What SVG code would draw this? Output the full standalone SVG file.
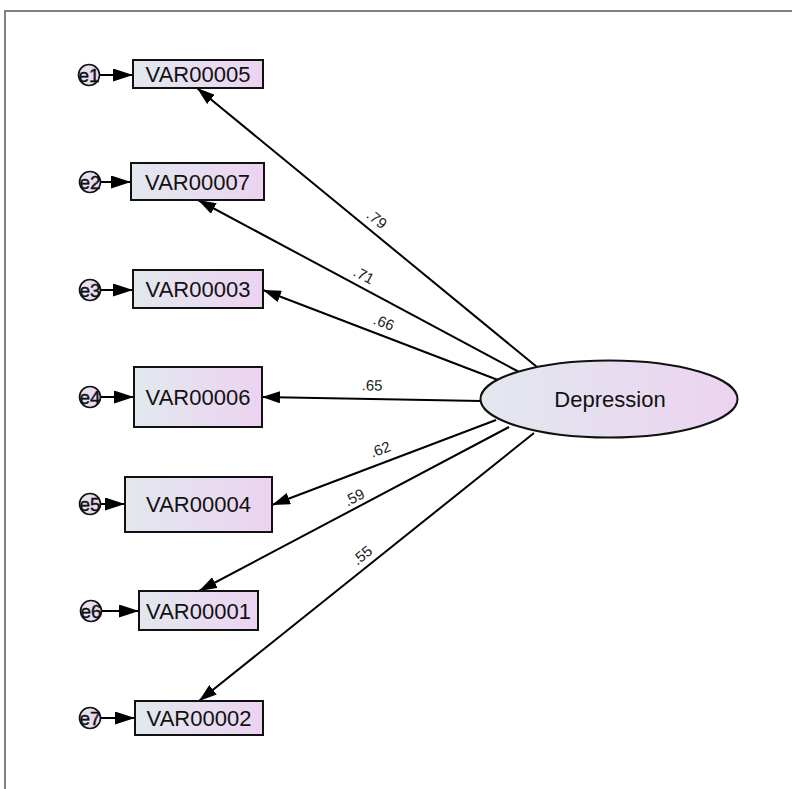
<svg xmlns="http://www.w3.org/2000/svg" width="792" height="789" viewBox="0 0 792 789">
  <defs>
    <linearGradient id="fill" x1="0" y1="0" x2="1" y2="0">
      <stop offset="0" stop-color="#e2e8ee"/>
      <stop offset="1" stop-color="#ecd3f1"/>
    </linearGradient>
    <marker id="arrow" markerUnits="userSpaceOnUse" markerWidth="19" markerHeight="12" refX="18" refY="6" orient="auto">
      <path d="M0,0 L18,6 L0,12 z" fill="#000"/>
    </marker>
    <marker id="arrowS" markerUnits="userSpaceOnUse" markerWidth="21" markerHeight="13" refX="20" refY="6.5" orient="auto">
      <path d="M0,0 L20,6.5 L0,13 z" fill="#000"/>
    </marker>
  </defs>
  <style>
    .box { fill: url(#fill); stroke: #111; stroke-width: 2; }
    .err { fill: url(#fill); stroke: #111; stroke-width: 1.6; }
    .lbl { font-family: "Liberation Sans", Arial, sans-serif; font-size: 22px; fill: #111; text-anchor: middle; dominant-baseline: central; }
    .etx { font-family: "Liberation Sans", Arial, sans-serif; font-size: 19px; fill: #111; stroke: #111; stroke-width: 0.4; text-anchor: middle; dominant-baseline: central; }
    .wt { font-family: "Liberation Sans", Arial, sans-serif; font-size: 15px; fill: #222; text-anchor: middle; dominant-baseline: central; }
    .path { stroke: #000; stroke-width: 2; fill: none; marker-end: url(#arrow); }
    .epath { stroke: #000; stroke-width: 2; fill: none; marker-end: url(#arrowS); }
  </style>

  <!-- frame -->
  <rect x="5" y="11" width="800" height="800" fill="#fff" stroke="#808080" stroke-width="2"/>

  <!-- connectors -->
  <g id="connectors">
    <line class="path" x1="537" y1="367" x2="197" y2="88"/>
    <line class="path" x1="521" y1="373" x2="198" y2="200"/>
    <line class="path" x1="498" y1="380" x2="263" y2="290"/>
    <line class="path" x1="481" y1="401" x2="262" y2="397"/>
    <line class="path" x1="496" y1="420" x2="272" y2="505"/>
    <line class="path" x1="509" y1="427" x2="199" y2="591"/>
    <line class="path" x1="534" y1="433" x2="199" y2="701"/>
    <line class="epath" x1="99" y1="75" x2="133" y2="75"/>
    <line class="epath" x1="100" y1="182" x2="131" y2="182"/>
    <line class="epath" x1="100" y1="290" x2="133" y2="290"/>
    <line class="epath" x1="100" y1="397" x2="134" y2="397"/>
    <line class="epath" x1="100" y1="504" x2="125" y2="504"/>
    <line class="epath" x1="101" y1="611" x2="139" y2="611"/>
    <line class="epath" x1="100" y1="718" x2="135" y2="718"/>
  </g>

  <!-- path weights -->
  <g id="weights">
    <text class="wt" transform="translate(377,219) rotate(39)">.79</text>
    <text class="wt" transform="translate(364,275) rotate(28)">.71</text>
    <text class="wt" transform="translate(384,322) rotate(21)">.66</text>
    <text class="wt" transform="translate(372,385) rotate(1)">.65</text>
    <text class="wt" transform="translate(380,449) rotate(-21)">.62</text>
    <text class="wt" transform="translate(354,497) rotate(-28)">.59</text>
    <text class="wt" transform="translate(362,555) rotate(-39)">.55</text>
  </g>

  <!-- latent variable -->
  <g id="depression">
    <ellipse class="box" cx="609" cy="399" rx="128.5" ry="38.5"/>
    <text class="lbl" x="610" y="399">Depression</text>
  </g>

  <!-- observed variables -->
  <g id="var00005">
    <rect class="box" x="133" y="60" width="130" height="28"/>
    <text class="lbl" x="198" y="74.5">VAR00005</text>
  </g>
  <g id="var00007">
    <rect class="box" x="131" y="163" width="133" height="37"/>
    <text class="lbl" x="197.5" y="182">VAR00007</text>
  </g>
  <g id="var00003">
    <rect class="box" x="133" y="270" width="130" height="38"/>
    <text class="lbl" x="198" y="289.5">VAR00003</text>
  </g>
  <g id="var00006">
    <rect class="box" x="134" y="367" width="128" height="60"/>
    <text class="lbl" x="198" y="397">VAR00006</text>
  </g>
  <g id="var00004">
    <rect class="box" x="125" y="477" width="147" height="55"/>
    <text class="lbl" x="198.5" y="504.5">VAR00004</text>
  </g>
  <g id="var00001">
    <rect class="box" x="139" y="591" width="119" height="39"/>
    <text class="lbl" x="198.5" y="611">VAR00001</text>
  </g>
  <g id="var00002">
    <rect class="box" x="135" y="701" width="128" height="34"/>
    <text class="lbl" x="199" y="718">VAR00002</text>
  </g>

  <!-- error terms -->
  <g id="e1"><circle class="err" cx="89" cy="75" r="10.5"/><text class="etx" x="89" y="75">e1</text></g>
  <g id="e2"><circle class="err" cx="90" cy="182" r="10.5"/><text class="etx" x="90" y="182">e2</text></g>
  <g id="e3"><circle class="err" cx="90" cy="290" r="10.5"/><text class="etx" x="90" y="290">e3</text></g>
  <g id="e4"><circle class="err" cx="90" cy="397" r="10.5"/><text class="etx" x="90" y="397">e4</text></g>
  <g id="e5"><circle class="err" cx="90" cy="504" r="10.5"/><text class="etx" x="90" y="504">e5</text></g>
  <g id="e6"><circle class="err" cx="91" cy="611" r="10.5"/><text class="etx" x="91" y="611">e6</text></g>
  <g id="e7"><circle class="err" cx="90" cy="718" r="10.5"/><text class="etx" x="90" y="718">e7</text></g>
</svg>
